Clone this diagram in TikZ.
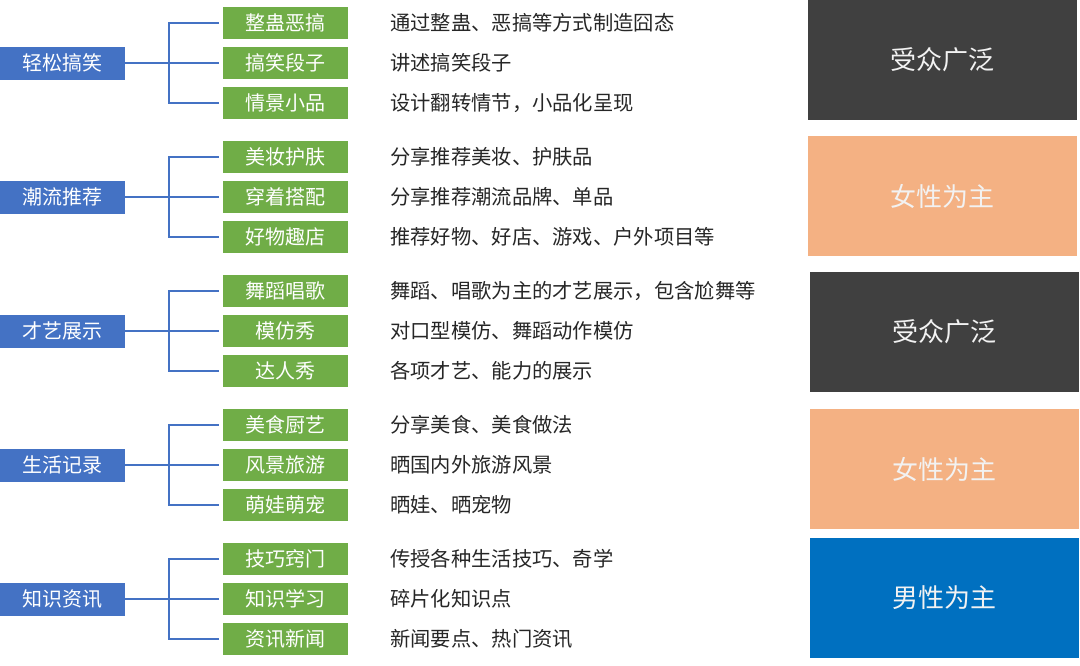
\documentclass[tikz,border=0pt]{standalone}
\usepackage{fontspec}
\setmainfont{Noto Sans CJK SC}
\definecolor{catblue}{HTML}{4472C4}
\definecolor{leafgreen}{HTML}{70AD47}
\definecolor{darkbox}{HTML}{404040}
\definecolor{peach}{HTML}{F4B183}
\definecolor{maleblue}{HTML}{0070C0}
\definecolor{desctext}{HTML}{262626}
\begin{document}
\begin{tikzpicture}[x=1pt,y=-1pt,
  cat/.style={fill=catblue,text=white,minimum width=125pt,minimum height=33pt,inner sep=0pt,font=\fontsize{20}{20}\selectfont},
  leaf/.style={fill=leafgreen,text=white,minimum width=125pt,minimum height=32pt,inner sep=0pt,font=\fontsize{20}{20}\selectfont},
  desc/.style={anchor=west,text=desctext,inner sep=0pt,font=\fontsize{20.3}{20.3}\selectfont},
  aud/.style={minimum width=269pt,minimum height=120pt,inner sep=0pt,text=white!95!black,font=\fontsize{26}{26}\selectfont},
  conn/.style={draw=catblue,line width=2pt}]
\useasboundingbox (0,0) rectangle (1080,665);
\foreach \i/\cat/\a/\b/\c/\da/\db/\dc in {
  0/轻松搞笑/整蛊恶搞/搞笑段子/情景小品/通过整蛊、恶搞等方式制造囧态/讲述搞笑段子/设计翻转情节，小品化呈现,
  1/潮流推荐/美妆护肤/穿着搭配/好物趣店/分享推荐美妆、护肤品/分享推荐潮流品牌、单品/推荐好物、好店、游戏、户外项目等,
  2/才艺展示/舞蹈唱歌/模仿秀/达人秀/舞蹈、唱歌为主的才艺展示，包含尬舞等/对口型模仿、舞蹈动作模仿/各项才艺、能力的展示,
  3/生活记录/美食厨艺/风景旅游/萌娃萌宠/分享美食、美食做法/晒国内外旅游风景/晒娃、晒宠物,
  4/知识资讯/技巧窍门/知识学习/资讯新闻/传授各种生活技巧、奇学/碎片化知识点/新闻要点、热门资讯}{
  \pgfmathtruncatemacro{\y}{23+134*\i}
  \node[cat] (c\i) at (62.5,\y+40) {\cat};
  \node[leaf] (l\i a) at (285.5,\y) {\a};
  \node[leaf] (l\i b) at (285.5,\y+40) {\b};
  \node[leaf] (l\i c) at (285.5,\y+80) {\c};
  \node[desc] (d\i a) at (390,\y) {\da};
  \node[desc] (d\i b) at (390,\y+40) {\db};
  \node[desc] (d\i c) at (390,\y+80) {\dc};
  \coordinate (t\i) at (169,\y+40);
  \draw[conn] (c\i.east) -- (t\i);
  \draw[conn] ([xshift=-4pt]l\i a.west) -- (l\i a.west -| t\i) -- (l\i c.west -| t\i) -- ([xshift=-4pt]l\i c.west);
  \draw[conn] (t\i) -- ([xshift=-4pt]l\i b.west);
}
\node[aud,fill=darkbox] (r1) at (942.5,60) {受众广泛};
\node[aud,fill=peach] (r2) at (942.5,196) {女性为主};
\node[aud,fill=darkbox] (r3) at (944,332) {受众广泛};
\node[aud,fill=peach] (r4) at (944,469) {女性为主};
\node[aud,fill=maleblue] (r5) at (944,598) {男性为主};
\end{tikzpicture}
\end{document}
